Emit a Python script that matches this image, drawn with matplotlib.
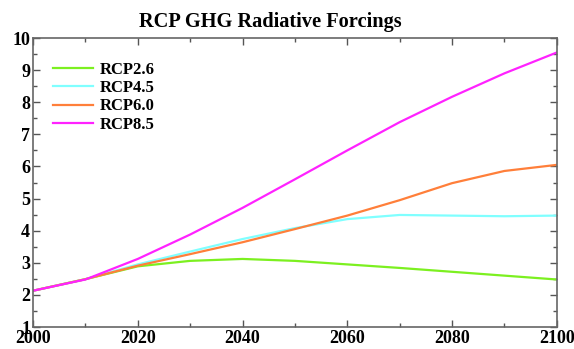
import matplotlib
matplotlib.use("Agg")
import matplotlib.pyplot as plt
from matplotlib.ticker import MultipleLocator

years = [2000, 2010, 2020, 2030, 2040, 2050, 2060, 2070, 2080, 2090, 2100]
rcp26 = [2.13, 2.49, 2.89, 3.06, 3.12, 3.06, 2.95, 2.84, 2.72, 2.60, 2.48]
rcp45 = [2.13, 2.49, 2.95, 3.35, 3.74, 4.08, 4.36, 4.49, 4.47, 4.45, 4.47]
rcp60 = [2.13, 2.49, 2.91, 3.27, 3.64, 4.05, 4.47, 4.95, 5.48, 5.86, 6.05]
rcp85 = [2.13, 2.48, 3.12, 3.88, 4.71, 5.60, 6.50, 7.38, 8.17, 8.90, 9.55]

labels = ["RCP2.6", "RCP4.5", "RCP6.0", "RCP8.5"]
colors = ["#7cf020", "#80ffff", "#ff7f3a", "#ff22ff"]

plt.rcParams["font.family"] = ["Liberation Serif", "DejaVu Serif"]
plt.rcParams["font.weight"] = "bold"

fig = plt.figure(figsize=(5.74, 3.49), dpi=100)
ax = fig.add_axes([0.0575, 0.063, 0.9125, 0.828])

for series, lab, col in zip([rcp26, rcp45, rcp60, rcp85], labels, colors):
    ax.plot(years, series, color=col, lw=1.6, label=lab)

ax.set_xlim(2000, 2100)
ax.set_ylim(1, 10)
ax.xaxis.set_major_locator(MultipleLocator(20))
ax.xaxis.set_minor_locator(MultipleLocator(10))
ax.yaxis.set_major_locator(MultipleLocator(1))
ax.yaxis.set_minor_locator(MultipleLocator(0.5))
ax.tick_params(which="both", direction="in", top=True, right=True,
               color="#555555", labelsize=13, width=1)
ax.tick_params(which="major", length=5, pad=2)
ax.tick_params(which="minor", length=3)
for lbl in ax.get_xticklabels() + ax.get_yticklabels():
    lbl.set_fontweight("bold")
for sp in ax.spines.values():
    sp.set_color("#666666")
    sp.set_linewidth(1.2)

ax.set_title("RCP GHG Radiative Forcings", fontsize=14.7, fontweight="bold",
             x=0.454, pad=8)

leg = ax.legend(loc="upper left", frameon=False,
                prop={"weight": "bold", "size": 12},
                handlelength=2.4, handletextpad=0.42, labelspacing=0.13,
                borderaxespad=0.0, bbox_to_anchor=(0.0254, 0.94))

fig.savefig("out.png", dpi=100)
